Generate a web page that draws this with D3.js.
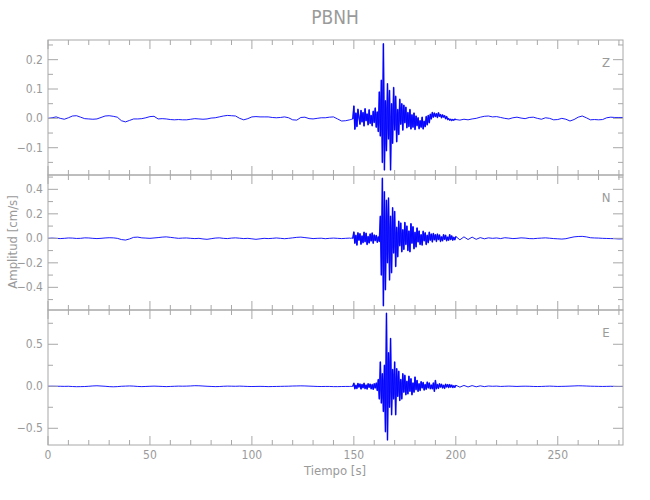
<!DOCTYPE html>
<html><head><meta charset="utf-8">
<script src="https://cdn.jsdelivr.net/npm/d3@7"></script>
<style>
body{margin:0;background:#fff;}
svg{display:block;}
text{font-family:"DejaVu Sans Condensed","DejaVu Sans",sans-serif;font-stretch:condensed;fill:#9a9a9a;}
</style></head>
<body><svg id="chart" width="650" height="500"></svg>
<script>
// ---- Data ----
const title = "PBNH";
const components = ["Z", "N", "E"];
const xMax = 282;
const xTicks = [0, 50, 100, 150, 200, 250];
// sampling: pre 0..146 step 2, burst 148..200 step 0.5, post 202..282 step 2
const zPre = [0.000,0.002,0.005,0.000,-0.003,0.002,0.008,0.009,0.004,-0.001,-0.002,-0.003,-0.002,0.003,0.008,0.009,0.007,0.004,-0.008,-0.012,-0.007,-0.002,-0.002,-0.001,0.002,0.006,0.007,-0.002,-0.001,-0.002,-0.004,-0.005,-0.004,-0.005,-0.005,-0.003,-0.001,-0.002,-0.003,-0.002,0.001,0.002,0.005,0.008,0.010,0.009,0.008,0.000,-0.005,-0.001,0.005,0.006,0.005,0.005,0.005,0.003,0.002,0.003,0.005,0.002,-0.005,-0.006,0.003,0.004,-0.001,-0.002,0.000,0.002,0.002,0.004,0.005,-0.002,-0.009,-0.008];
const zBurst = [-0.005,-0.004,-0.003,-0.002,
  0.042,-0.037,0.018,-0.028,0.031,0.004,-0.020,0.027,-0.012,0.020,-0.026,0.033,-0.008,0.015,-0.022,0.029,-0.017,0.010,-0.025,0.024,-0.014,0.035,-0.030,0.022,
  -0.045,0.090,-0.060,0.130,-0.150,0.254,-0.176,0.060,-0.110,0.118,-0.070,0.095,-0.176,0.050,-0.085,0.105,
  -0.040,0.075,-0.080,0.030,-0.055,0.065,-0.020,0.050,-0.040,0.045,-0.015,0.038,-0.032,0.020,-0.028,0.030,
  -0.036,0.012,-0.030,0.018,-0.038,0.008,-0.025,0.002,-0.035,-0.008,-0.030,0.004,-0.036,-0.010,-0.028,0.006,
  -0.022,0.010,-0.015,0.014,-0.002,0.020,0.004,0.018,0.006,0.016,0.003,0.019,0.007,0.013,0.002,0.012,
  0.004,0.009,-0.001,0.006,-0.004,-0.001,-0.006,-0.003,-0.007,-0.004,-0.006,-0.003,-0.004];
const zPost = [-0.006,-0.003,-0.005,-0.002,0.000,0.004,0.007,0.008,0.005,0.006,0.003,0.000,-0.002,0.002,0.004,0.001,-0.001,0.003,0.004,0.000,-0.003,0.002,0.000,-0.005,-0.004,0.000,-0.003,-0.009,-0.004,0.004,0.008,0.002,-0.005,-0.004,-0.005,-0.004,0.002,0.004,0.003,0.003,0.003];
const nPre = [0.000,0.002,0.000,-0.002,0.000,0.003,0.002,-0.001,0.000,0.004,0.003,0.000,-0.002,0.000,0.003,0.005,0.004,0.000,-0.010,-0.014,-0.005,0.008,0.010,0.004,0.002,0.000,0.003,0.006,0.010,0.012,0.008,0.004,0.000,0.002,0.003,0.000,-0.002,0.000,-0.005,-0.008,-0.003,0.002,0.004,0.000,-0.002,0.002,0.004,0.001,-0.002,0.000,-0.004,-0.008,-0.004,0.000,-0.002,0.000,0.003,0.000,-0.003,0.000,0.004,0.008,0.010,0.006,0.002,-0.002,0.000,0.001,-0.003,0.000,0.002,0.000,-0.002,0.000];
const nBurst = [0.002,0.000,0.002,0.000,
  0.052,-0.040,0.025,-0.055,0.045,-0.015,0.038,-0.048,0.020,-0.035,0.050,-0.028,0.042,-0.050,0.015,-0.038,0.036,-0.022,0.044,-0.040,0.028,-0.018,0.024,-0.032,
  0.012,-0.025,0.180,-0.300,0.490,-0.550,0.380,-0.420,
  0.310,-0.200,0.330,-0.340,0.180,-0.280,0.250,-0.120,
  0.220,-0.230,0.090,-0.150,0.140,-0.060,0.125,-0.110,
  0.070,-0.090,0.130,-0.050,0.100,-0.100,0.060,-0.110,
  0.120,-0.040,0.095,-0.085,0.050,-0.070,0.085,-0.030,
  0.060,-0.050,0.030,-0.055,0.058,-0.020,0.045,-0.050,
  0.025,-0.035,0.050,-0.015,0.035,-0.030,0.040,-0.012,
  0.030,-0.025,0.035,-0.010,0.028,-0.025,0.012,-0.020,
  0.030,-0.008,0.025,-0.020,0.010,-0.015,0.030,-0.010,
  0.020,-0.015,0.008,-0.012,0.015];
const nPost = [-0.012,0.012,-0.010,0.010,-0.008,0.006,-0.004,0.004,0.000,0.003,-0.002,0.005,0.002,-0.002,0.000,0.004,0.002,-0.002,-0.003,0.000,0.002,0.004,0.001,-0.002,-0.004,-0.006,-0.003,0.005,0.012,0.015,0.016,0.012,0.005,0.003,0.002,0.000,-0.001,-0.002,-0.003,-0.005,-0.004];
const ePre = [0.000,0.001,0.000,0.000,-0.001,0.000,-0.003,-0.005,-0.004,-0.003,0.000,0.004,0.006,0.003,0.000,-0.004,-0.006,-0.004,0.000,0.002,0.004,0.002,-0.002,-0.004,-0.002,0.000,0.002,0.000,-0.002,-0.004,-0.002,0.000,0.002,0.001,0.002,0.004,0.007,0.006,0.003,0.000,-0.002,-0.004,-0.003,0.000,0.002,0.001,0.000,0.002,0.000,-0.002,-0.003,-0.002,-0.001,-0.002,-0.004,-0.003,-0.002,-0.001,0.000,0.001,0.003,0.004,0.005,0.004,0.002,0.000,-0.002,-0.003,-0.002,-0.002,-0.004,-0.004,-0.003,-0.002];
const eBurst = [-0.002,-0.001,-0.002,0.000,
  0.036,-0.030,0.012,-0.026,0.034,-0.010,0.028,-0.032,0.022,-0.018,0.035,-0.028,0.015,-0.033,0.030,-0.012,0.026,-0.030,0.020,-0.036,0.030,-0.020,0.038,-0.050,
  0.080,-0.150,0.290,-0.200,0.150,-0.300,0.250,-0.540,
  0.870,-0.640,0.400,-0.250,0.570,-0.340,0.200,-0.150,
  0.290,-0.340,0.210,-0.120,0.180,-0.170,0.080,-0.150,
  0.150,-0.070,0.130,-0.100,0.060,-0.090,0.120,-0.060,
  0.090,-0.100,0.040,-0.070,0.110,-0.040,0.070,-0.060,
  0.030,-0.050,0.055,-0.020,0.045,-0.045,0.020,-0.035,
  0.050,-0.020,0.040,-0.030,0.015,-0.030,0.040,-0.060,
  0.070,-0.030,0.020,-0.025,0.030,-0.010,0.025,-0.020,
  0.012,-0.025,0.025,-0.008,0.020,-0.015,0.020,-0.010,
  0.015,-0.015,0.006,-0.012,0.012];
const ePost = [-0.010,0.010,-0.008,0.008,-0.006,0.005,-0.004,0.003,0.000,0.002,-0.002,0.000,0.002,0.000,-0.002,0.000,0.001,0.000,-0.002,-0.003,-0.002,0.000,0.002,0.000,-0.002,-0.001,0.000,0.002,0.004,0.006,0.005,0.003,0.001,0.000,-0.001,-0.002,-0.001,0.000,-0.002,-0.003,-0.002];
const yDomains = [[-0.193, 0.267], [-0.585, 0.517], [-0.699, 0.908]];
const yMajor = [[-0.1, 0.0, 0.1, 0.2], [-0.4, -0.2, 0.0, 0.2, 0.4], [-0.5, 0.0, 0.5]];
const yMinorStep = [0.05, 0.1, 0.25];

// ---- Build series ----
function build(pre, burst, post){
  const pts = [];
  pre.forEach((v,i)=>pts.push([i*2, v]));
  burst.forEach((v,i)=>pts.push([148 + i*0.5, v]));
  post.forEach((v,i)=>pts.push([202 + i*2, v]));
  return pts;
}
const series = [build(zPre,zBurst,zPost), build(nPre,nBurst,nPost), build(ePre,eBurst,ePost)];

// ---- Layout ----
const svg = d3.select("#chart");
const L = 48, R = 623, T = 40, panelH = 135;
const x = d3.scaleLinear().domain([0, xMax]).range([L, R]);
const axisCol = "#a8a8a8";
const fmt = d3.format(".1f");

svg.append("text").attr("x", 335).attr("y", 24).attr("text-anchor","middle")
  .attr("font-size", 19).text(title);

const xMinor = d3.range(0, xMax + 0.001, 10);

components.forEach((c, k) => {
  const top = T + k*panelH, bot = top + panelH;
  const y = d3.scaleLinear().domain(yDomains[k]).range([bot, top]);
  const g = svg.append("g");
  // trace
  const line = d3.line().x(d=>x(d[0])).y(d=>y(d[1]));
  g.append("path").datum(series[k]).attr("d", line)
    .attr("fill","none").attr("stroke","#0000ff").attr("stroke-width",0.9)
    .attr("stroke-linejoin","round");
  // dense (high-frequency) part drawn heavier so the oscillations merge
  g.append("path").datum(series[k].filter(d => d[0] >= 149.5 && d[0] <= 200)).attr("d", line)
    .attr("fill","none").attr("stroke","#0000ff").attr("stroke-width",1.5)
    .attr("stroke-opacity",0.8).attr("stroke-linejoin","round");
  // frame
  g.append("rect").attr("x", L).attr("y", top).attr("width", R-L).attr("height", panelH)
    .attr("fill","none").attr("stroke", axisCol).attr("stroke-width",1);
  // x ticks top & bottom (inward)
  xMinor.forEach(t => {
    const major = xTicks.includes(t);
    const len = major ? 9 : 5;
    g.append("line").attr("x1", x(t)).attr("x2", x(t)).attr("y1", top).attr("y2", top+len)
      .attr("stroke", axisCol);
    g.append("line").attr("x1", x(t)).attr("x2", x(t)).attr("y1", bot).attr("y2", bot-len)
      .attr("stroke", axisCol);
  });
  // y minor & major ticks, left & right (inward)
  const [d0, d1] = yDomains[k];
  const st = yMinorStep[k];
  for (let v = Math.ceil(d0/st)*st; v <= d1 + 1e-9; v += st) {
    const vv = Math.round(v*1000)/1000;
    const major = yMajor[k].some(m => Math.abs(m - vv) < 1e-6);
    const len = major ? 10 : 5;
    g.append("line").attr("x1", L).attr("x2", L+len).attr("y1", y(vv)).attr("y2", y(vv)).attr("stroke", axisCol);
    g.append("line").attr("x1", R).attr("x2", R-len).attr("y1", y(vv)).attr("y2", y(vv)).attr("stroke", axisCol);
  }
  // y labels
  yMajor[k].forEach(v => {
    g.append("text").attr("x", L-5).attr("y", y(v)+4).attr("text-anchor","end")
      .attr("font-size", 12).text(fmt(v).replace("-", "\u2212"));
  });
  // component label
  g.append("text").attr("x", 606).attr("y", top + 27).attr("text-anchor","middle")
    .attr("font-size", 13).text(c);
  if (k === 2) {
    xTicks.forEach(t => {
      g.append("text").attr("x", x(t)).attr("y", bot + 14).attr("text-anchor","middle")
        .attr("font-size", 12).text(t);
    });
  }
});

svg.append("text").attr("x", 335).attr("y", 475).attr("text-anchor","middle")
  .attr("font-size", 13).text("Tiempo  [s]");
svg.append("text").attr("transform", "translate(17,242) rotate(-90)").attr("text-anchor","middle")
  .attr("font-size", 13).text("Amplitud  [cm/s]");
</script></body></html>
